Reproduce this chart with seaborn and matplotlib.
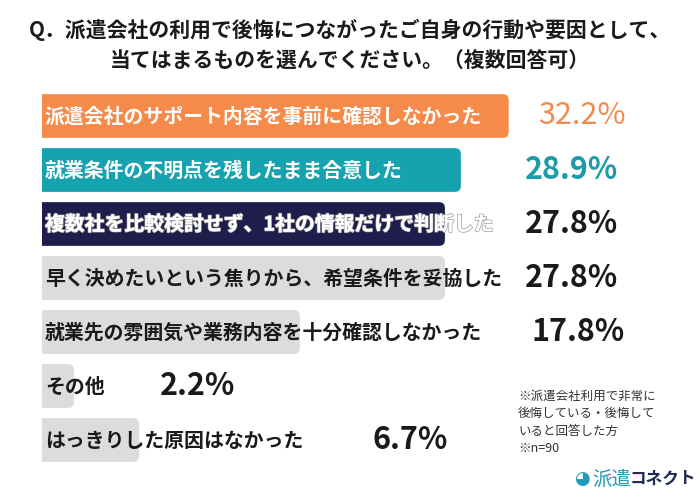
import matplotlib
matplotlib.use("Agg")
import matplotlib.pyplot as plt
import matplotlib.patheffects as pe
from matplotlib.patches import FancyBboxPatch
import seaborn as sns
import pandas as pd

categories = [
    "派遣会社のサポート内容を事前に確認しなかった",
    "就業条件の不明点を残したまま合意した",
    "複数社を比較検討せず、1社の情報だけで判断した",
    "早く決めたいという焦りから、希望条件を妥協した",
    "就業先の雰囲気や業務内容を十分確認しなかった",
    "その他",
    "はっきりした原因はなかった",
]
values = [32.2, 28.9, 27.8, 27.8, 17.8, 2.2, 6.7]
value_labels = ["32.2%", "28.9%", "27.8%", "27.8%", "17.8%", "2.2%", "6.7%"]

bar_colors = ["#F58A4B", "#17A2AF", "#1E1D4B", "#DCDCDC", "#DCDCDC", "#DCDCDC", "#DCDCDC"]
text_colors = ["white", "white", "white", "#1a1a1a", "#1a1a1a", "#1a1a1a", "#1a1a1a"]
label_colors = ["#F08A4F", "#1B9CA8", "#1a1a1a", "#1a1a1a", "#1a1a1a", "#1a1a1a", "#1a1a1a"]
# where the percent labels sit (x in % units)
label_x = [34.2, 33.3, 33.3, 33.3, 33.8, 8.1, 22.8]

sns.set_theme(style="white")
plt.rcParams['font.family'] = ['Noto Sans CJK JP', 'DejaVu Sans']

df = pd.DataFrame({"category": categories, "value": values})

fig = plt.figure(figsize=(7, 5), dpi=100)
ax = fig.add_axes([0.06, 0.066, 0.94, 0.756])

sns.barplot(data=df, y="category", x="value", hue="category",
            palette=bar_colors, saturation=1, orient="h", width=0.81,
            legend=False, ax=ax)

ax.set_xlim(0, 45.4)
ax.set_ylim(6.5, -0.5)
ax.axis("off")

# give the bars rounded right ends (left end is hidden behind the axes edge)
for p in list(ax.patches):
    x0, y0, w, h = p.get_x(), p.get_y(), p.get_width(), p.get_height()
    if w <= 0:
        continue
    rb = FancyBboxPatch((x0 - 1, y0), w + 1, h,
                        boxstyle="round,pad=0,rounding_size=0.4",
                        mutation_aspect=0.27, facecolor=p.get_facecolor(),
                        edgecolor="none", zorder=p.get_zorder())
    p.set_visible(False)
    ax.add_patch(rb)

for i, (cat, v) in enumerate(zip(categories, values)):
    t = ax.text(0.2, i, cat, ha="left", va="center", fontsize=14.3, fontweight="bold",
                color=text_colors[i], zorder=5)
    if i == 2:
        # text runs past the bar end: outline keeps it visible on white
        t.set_path_effects([pe.withStroke(linewidth=1.2, foreground="#9a9a9a"), pe.Normal()])
    w = "normal" if i == 0 else "bold"
    ax.text(label_x[i], i, value_labels[i], ha="left", va="center", fontsize=22,
            fontweight=w, color=label_colors[i], zorder=5)

fig.text(0.5, 0.94, "Q．派遣会社の利用で後悔につながったご自身の行動や要因として、",
         ha="center", va="center", fontsize=15, fontweight="bold", color="#1a1a1a")
fig.text(0.5, 0.878, "当てはまるものを選んでください。（複数回答可）",
         ha="center", va="center", fontsize=15, fontweight="bold", color="#1a1a1a")

fig.text(0.74, 0.155, "※派遣会社利用で非常に\n後悔している・後悔して\nいると回答した方\n※n=90",
         ha="left", va="center", fontsize=9, color="#333333", linespacing=1.45)

fig.text(0.843, 0.042, "◕", ha="right", va="center", fontsize=13,
         color="#1E9BB8", family=['DejaVu Sans'])
fig.text(0.846, 0.042, "派遣", ha="left", va="center", fontsize=14,
         color="#1E9BB8")
fig.text(0.9, 0.042, "コネクト", ha="left", va="center", fontsize=12,
         fontweight="bold", color="#1E2A4F")

fig.savefig("out.png", dpi=100, facecolor="white")
